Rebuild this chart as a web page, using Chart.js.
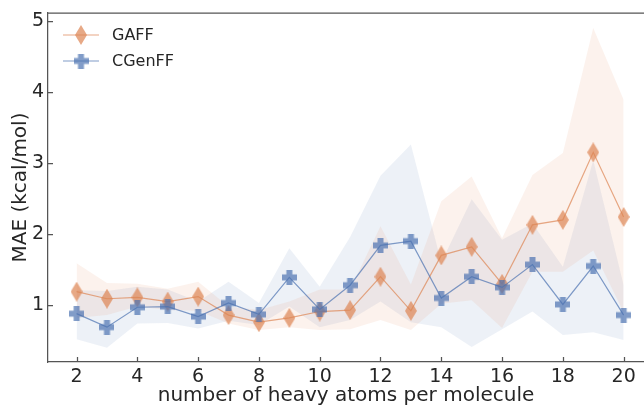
<!DOCTYPE html>
<html>
<head>
<meta charset="utf-8">
<script src="https://cdn.jsdelivr.net/npm/chart.js@4/dist/chart.umd.min.js"></script>
<style>
  html, body { margin: 0; padding: 0; background: #fff; overflow: hidden; }
  #wrap { width: 644px; height: 406px; }
</style>
</head>
<body>
<div id="wrap"><canvas id="maeChart" width="644" height="406"></canvas></div>
<script>
// values
const atoms = [2, 3, 4, 5, 6, 7, 8, 9, 10, 11, 12, 13, 14, 15, 16, 17, 18, 19, 20];
const gaff = [1.19, 1.09, 1.11, 1.05, 1.12, 0.86, 0.76, 0.82, 0.91, 0.93, 1.40, 0.92, 1.70, 1.82, 1.30, 2.13, 2.20, 3.15, 2.24];
const gaffUpper = [1.59, 1.31, 1.30, 1.23, 1.33, 0.98, 0.93, 1.05, 1.22, 1.22, 2.11, 1.29, 2.46, 2.81, 1.94, 2.83, 3.14, 4.90, 3.89];
const gaffLower = [0.82, 0.86, 0.98, 0.93, 0.92, 0.74, 0.65, 0.69, 0.65, 0.66, 0.79, 0.65, 1.02, 1.07, 0.68, 1.47, 1.47, 1.77, 0.90];
const cgenff = [0.88, 0.69, 0.97, 0.98, 0.84, 1.03, 0.87, 1.39, 0.94, 1.28, 1.84, 1.90, 1.10, 1.40, 1.25, 1.57, 1.01, 1.55, 0.86];
const cgenffUpper = [1.21, 1.20, 1.26, 1.22, 1.05, 1.33, 1.03, 1.80, 1.26, 1.96, 2.82, 3.26, 1.60, 2.49, 1.92, 2.15, 1.54, 3.04, 1.28];
const cgenffLower = [0.52, 0.40, 0.74, 0.75, 0.67, 0.78, 0.72, 0.98, 0.69, 0.79, 1.05, 0.76, 0.69, 0.41, 0.66, 0.91, 0.58, 0.62, 0.51];
const xTicks = [2, 4, 6, 8, 10, 12, 14, 16, 18, 20];
const yTicks = [1, 2, 3, 4, 5];

const ORANGE = 'rgba(221,132,82,0.7)';
const BLUE = 'rgba(76,114,176,0.7)';
const ORANGE_BAND = 'rgba(221,132,82,0.1)';
const BLUE_BAND = 'rgba(76,114,176,0.1)';
const TEXT = '#262626';
const SPINE = '#555555';
const FONT = "'DejaVu Sans', sans-serif";

function pts(ys) {
    return atoms.map((a, i) => ({ x: a, y: ys[i] }));
}

// tall diamond marker (matplotlib 'd')
function makeDiamond(color, w, h) {
    const c = document.createElement('canvas');
    c.width = w; c.height = h;
    const g = c.getContext('2d');
    g.fillStyle = color;
    g.beginPath();
    g.moveTo(w / 2, 0);
    g.lineTo(w, h / 2);
    g.lineTo(w / 2, h);
    g.lineTo(0, h / 2);
    g.closePath();
    g.fill();
    return c;
}

// filled plus marker (matplotlib 'P')
function makePlus(color, s, t) {
    const c = document.createElement('canvas');
    c.width = s; c.height = s;
    const g = c.getContext('2d');
    g.fillStyle = color;
    const a = (s - t) / 2;
    g.beginPath();
    g.moveTo(a, 0); g.lineTo(a + t, 0); g.lineTo(a + t, a); g.lineTo(s, a);
    g.lineTo(s, a + t); g.lineTo(a + t, a + t); g.lineTo(a + t, s); g.lineTo(a, s);
    g.lineTo(a, a + t); g.lineTo(0, a + t); g.lineTo(0, a); g.lineTo(a, a);
    g.closePath();
    g.fill();
    return c;
}

const diamond = makeDiamond(ORANGE, 12, 20);
const plus = makePlus(BLUE, 15, 6);

const bandStyle = { pointRadius: 0, borderWidth: 0, tension: 0, order: 10 };

const frame = {
    id: 'frame',
    afterDraw(chart) {
        const { ctx, chartArea, scales } = chart;
        ctx.save();
        ctx.strokeStyle = SPINE;
        ctx.lineWidth = 1.25;
        ctx.beginPath();
        ctx.moveTo(chartArea.left, chartArea.top);
        ctx.lineTo(chartArea.right, chartArea.top);
        // inward ticks
        xTicks.forEach(v => {
            const x = Math.round(scales.x.getPixelForValue(v)) + 0.5;
            ctx.moveTo(x, chartArea.bottom);
            ctx.lineTo(x, chartArea.bottom - 5);
        });
        yTicks.forEach(v => {
            const y = Math.round(scales.y.getPixelForValue(v)) + 0.5;
            ctx.moveTo(chartArea.left, y);
            ctx.lineTo(chartArea.left + 5, y);
        });
        ctx.stroke();

        // legend inside the axes
        const rows = [
            { label: 'GAFF', color: ORANGE, img: diamond, y: 35 },
            { label: 'CGenFF', color: BLUE, img: plus, y: 61 }
        ];
        ctx.font = '16px ' + FONT;
        ctx.textBaseline = 'middle';
        ctx.fillStyle = TEXT;
        rows.forEach(r => {
            ctx.strokeStyle = r.color;
            ctx.lineWidth = 1.2;
            ctx.beginPath();
            ctx.moveTo(63, r.y);
            ctx.lineTo(99, r.y);
            ctx.stroke();
            ctx.drawImage(r.img, 81 - r.img.width / 2, r.y - r.img.height / 2);
            ctx.fillText(r.label, 112, r.y + 1);
        });
        ctx.restore();
    }
};

new Chart(document.getElementById('maeChart'), {
    type: 'line',
    data: {
        datasets: [
            Object.assign({ label: 'gaffUpper', data: pts(gaffUpper), fill: '+1', backgroundColor: ORANGE_BAND }, bandStyle),
            Object.assign({ label: 'gaffLower', data: pts(gaffLower), fill: false }, bandStyle),
            Object.assign({ label: 'cgenffUpper', data: pts(cgenffUpper), fill: '+1', backgroundColor: BLUE_BAND }, bandStyle),
            Object.assign({ label: 'cgenffLower', data: pts(cgenffLower), fill: false }, bandStyle),
            {
                label: 'GAFF', data: pts(gaff), borderColor: ORANGE, borderWidth: 1.2,
                pointStyle: diamond, pointRadius: 8, backgroundColor: ORANGE, tension: 0, fill: false, order: 2
            },
            {
                label: 'CGenFF', data: pts(cgenff), borderColor: BLUE, borderWidth: 1.2,
                pointStyle: plus, pointRadius: 7, backgroundColor: BLUE, tension: 0, fill: false, order: 1
            }
        ]
    },
    options: {
        responsive: false,
        animation: false,
        layout: { autoPadding: false, padding: { top: 13, right: 0, left: 0, bottom: 0 } },
        plugins: {
            legend: { display: false },
            tooltip: { enabled: false }
        },
        scales: {
            x: {
                type: 'linear',
                min: 1.06,
                max: 20.67,
                afterBuildTicks: s => { s.ticks = xTicks.map(v => ({ value: v })); },
                afterFit: s => { s.height = 44; s.paddingLeft = 0; s.paddingRight = 0; },
                grid: { display: false, drawTicks: false },
                border: { display: true, color: SPINE, width: 1.25 },
                ticks: { font: { family: FONT, size: 19 }, color: TEXT, padding: 4, maxRotation: 0 },
                title: {
                    display: true,
                    text: 'number of heavy atoms per molecule',
                    font: { family: FONT, size: 20 },
                    color: TEXT,
                    padding: { top: 0, bottom: -2 }
                }
            },
            y: {
                min: 0.2,
                max: 5.11,
                afterBuildTicks: s => { s.ticks = yTicks.map(v => ({ value: v })); },
                afterFit: s => { s.width = 48; s.paddingTop = 0; s.paddingBottom = 0; },
                grid: { display: false, drawTicks: false },
                border: { display: true, color: SPINE, width: 1.25 },
                ticks: { font: { family: FONT, size: 19 }, color: TEXT, padding: 4 },
                title: {
                    display: true,
                    text: 'MAE (kcal/mol)',
                    font: { family: FONT, size: 20 },
                    color: TEXT,
                    padding: { top: 9, bottom: 0 }
                }
            }
        }
    },
    plugins: [frame]
});
</script>
</body>
</html>
